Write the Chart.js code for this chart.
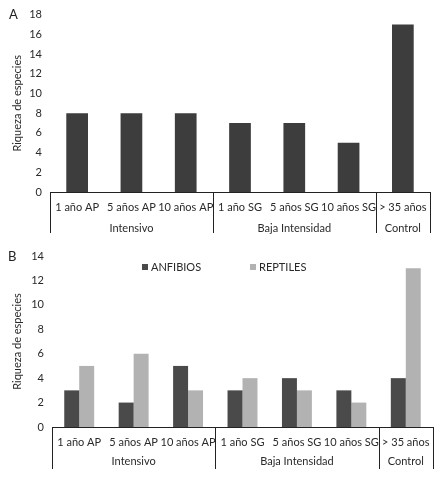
<!DOCTYPE html>
<html>
<head>
<meta charset="utf-8">
<script src="https://cdn.jsdelivr.net/npm/chart.js@4/dist/chart.umd.min.js"></script>
<style>
  body { margin: 0; background: #fff; width: 445px; height: 479px; position: relative; overflow: hidden; }
  .box { position: absolute; left: 0; width: 445px; }
  .tag { position: absolute; font: 13px Lato, sans-serif; color: #222; }
</style>
</head>
<body>
<div class="box" style="top:0;height:240px"><canvas id="chartA"></canvas></div>
<div class="box" style="top:240px;height:239px"><canvas id="chartB"></canvas></div>
<div class="tag" style="left:9px;top:6px">A</div>
<div class="tag" style="left:8px;top:248px">B</div>
<script>
var categories = ['1 año AP', '5 años AP', '10 años AP', '1 año SG', '5 años SG', '10 años SG', '> 35 años']
var groups = [
  {label: 'Intensivo', from: 0, to: 2},
  {label: 'Baja Intensidad', from: 3, to: 5},
  {label: 'Control', from: 6, to: 6}
]
var totalRiqueza = [8, 8, 8, 7, 7, 5, 17]
var anfibios = [3, 2, 5, 3, 4, 3, 4]
var reptiles = [5, 6, 3, 4, 3, 2, 13]
var yTitle = 'Riqueza de especies'

var FONT = 'Lato, sans-serif'
var TEXT = '#2a2a2a'

// group boxes under the x axis
var groupPlugin = {
  id: 'groups',
  afterDraw: function(chart, args, opts){
    var ctx = chart.ctx
    var x = chart.scales.x
    var base = chart.chartArea.bottom
    ctx.save()
    ctx.strokeStyle = '#222'
    ctx.lineWidth = 1
    var edges = [-0.5]
    groups.forEach(function(g){ edges.push(g.to + 0.5) })
    edges.forEach(function(e){
      var px = Math.round(x.getPixelForValue(e)) + 0.5
      ctx.beginPath()
      ctx.moveTo(px, base)
      ctx.lineTo(px, base + opts.depth)
      ctx.stroke()
    })
    ctx.fillStyle = TEXT
    ctx.font = '11px ' + FONT
    ctx.textAlign = 'center'
    ctx.textBaseline = 'middle'
    groups.forEach(function(g){
      var cx = (x.getPixelForValue(g.from - 0.5) + x.getPixelForValue(g.to + 0.5)) / 2
      ctx.fillText(g.label, cx, base + opts.labelY)
    })
    ctx.restore()
  }
}

// small square legend drawn inside the plot
var legendPlugin = {
  id: 'miniLegend',
  afterDraw: function(chart, args, opts){
    if (!opts.items) return
    var ctx = chart.ctx
    ctx.save()
    ctx.font = '11px ' + FONT
    ctx.textBaseline = 'middle'
    chart.data.datasets.forEach(function(ds, i){
      var it = opts.items[i]
      ctx.fillStyle = ds.backgroundColor
      ctx.fillRect(it.x, opts.y - 3, 6, 6)
      ctx.fillStyle = TEXT
      ctx.fillText(ds.label, it.x + 9, opts.y)
    })
    ctx.restore()
  }
}

function makeOptions(yMax, leftW, rightPad, bottomH, topPad, depth, labelY, legend){
  return {
    responsive: true,
    maintainAspectRatio: false,
    animation: false,
    layout: { padding: { top: topPad, right: rightPad, left: 0, bottom: 0 } },
    plugins: {
      legend: { display: false },
      tooltip: { enabled: false },
      groups: { depth: depth, labelY: labelY },
      miniLegend: legend
    },
    scales: {
      x: {
        grid: { display: false, drawTicks: false },
        border: { display: true, color: '#222', width: 1 },
        ticks: { color: TEXT, font: { family: FONT, size: 11 }, padding: 9, maxRotation: 0, autoSkip: false },
        afterFit: function(s){ s.height = bottomH }
      },
      y: {
        min: 0, max: yMax,
        grid: { display: false, drawTicks: false },
        border: { display: false },
        ticks: { stepSize: 2, color: TEXT, font: { family: FONT, size: 11 }, padding: 8 },
        title: { display: true, text: yTitle, color: TEXT, font: { family: FONT, size: 11 }, padding: { top: 11, bottom: 0 } },
        afterFit: function(s){ s.width = leftW }
      }
    }
  }
}

new Chart(document.getElementById('chartA'), {
  type: 'bar',
  data: {
    labels: categories,
    datasets: [{
      label: yTitle,
      data: totalRiqueza,
      backgroundColor: '#3d3d3d',
      categoryPercentage: 1,
      barPercentage: 0.4
    }]
  },
  options: makeOptions(18, 50, 15, 48, 14, 41, 36, {}),
  plugins: [groupPlugin, legendPlugin]
})

new Chart(document.getElementById('chartB'), {
  type: 'bar',
  data: {
    labels: categories,
    datasets: [
      { label: 'ANFIBIOS', data: anfibios, backgroundColor: '#4a4a4a', categoryPercentage: 0.55, barPercentage: 1 },
      { label: 'REPTILES', data: reptiles, backgroundColor: '#b2b2b2', categoryPercentage: 0.55, barPercentage: 1 }
    ]
  },
  options: makeOptions(14, 52, 12, 52, 16, 42, 34, { y: 27, items: [{x: 142}, {x: 250}] }),
  plugins: [groupPlugin, legendPlugin]
})
</script>
</body>
</html>
